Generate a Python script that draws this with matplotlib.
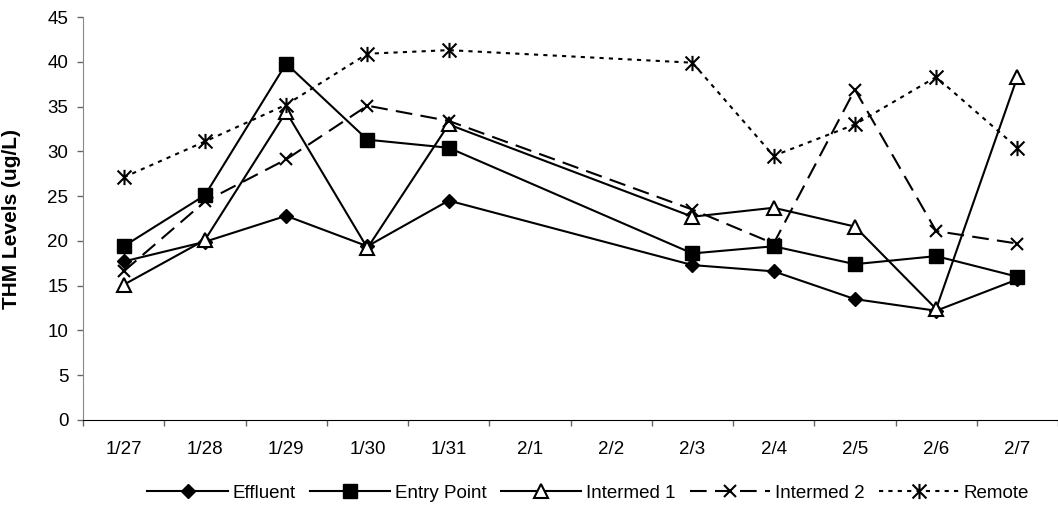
import matplotlib
matplotlib.use("Agg")
import matplotlib.pyplot as plt
from matplotlib.path import Path

plt.rcParams['font.family'] = ['Liberation Sans', 'DejaVu Sans']

dates = ["1/27", "1/28", "1/29", "1/30", "1/31", "2/1", "2/2", "2/3", "2/4", "2/5", "2/6", "2/7"]
effluent = [17.7, 19.9, 22.8, 19.4, 24.5, None, None, 17.3, 16.6, 13.5, 12.2, 15.7]
entry_point = [19.4, 25.1, 39.8, 31.3, 30.4, None, None, 18.6, 19.4, 17.4, 18.3, 16.0]
intermed1 = [15.1, 20.1, 34.4, 19.2, 33.0, None, None, 22.7, 23.7, 21.6, 12.4, 38.3]
intermed2 = [16.6, 24.4, 29.1, 35.1, 33.4, None, None, 23.5, 19.7, 36.9, 21.1, 19.7]
remote = [27.1, 31.1, 35.2, 40.9, 41.3, None, None, 39.9, 29.5, 33.0, 38.3, 30.4]

asterisk = Path([(-1, -1), (1, 1), (-1, 1), (1, -1), (0, -1.1), (0, 1.1)],
                [Path.MOVETO, Path.LINETO, Path.MOVETO, Path.LINETO, Path.MOVETO, Path.LINETO])

fig = plt.figure(figsize=(10.58, 5.25), dpi=100)
ax = fig.add_axes([0.0785, 0.2, 0.9215, 0.7676])

def xy(vals):
    xs = [i for i, v in enumerate(vals) if v is not None]
    ys = [v for v in vals if v is not None]
    return xs, ys

series = [
    ("Effluent", effluent, dict(ls='-', marker='D', ms=7.5, mfc='black', mec='black')),
    ("Entry Point", entry_point, dict(ls='-', marker='s', ms=10, mfc='black', mec='black')),
    ("Intermed 1", intermed1, dict(ls='-', marker='^', ms=10, mfc='white', mec='black', mew=1.5)),
    ("Intermed 2", intermed2, dict(ls=(0, (8, 4)), marker='x', ms=9, mec='black', mew=1.5)),
    ("Remote", remote, dict(ls=(0, (2, 2.5)), marker=asterisk, ms=11, mec='black', mew=1.5)),
]
for name, vals, st in series:
    xs, ys = xy(vals)
    ax.plot(xs, ys, color='black', lw=1.5, label=name, **st)

ax.set_xlim(-0.5, len(dates) - 0.5)
ax.set_ylim(0, 45)
ax.set_yticks(range(0, 46, 5))
ax.set_xticks(range(len(dates)))
ax.set_xticklabels(dates)
ax.set_xticks([i - 0.5 for i in range(len(dates) + 1)], minor=True)
ax.tick_params(axis='x', which='major', length=0, pad=15, labelsize=13.5)
ax.tick_params(axis='x', which='minor', length=4.5, width=1, color='#666666')
ax.tick_params(axis='y', length=4.5, width=1, color='#666666', labelsize=13.5, pad=6)
ax.spines['top'].set_visible(False)
ax.spines['right'].set_visible(False)
ax.spines['left'].set_color('#888888')
ax.spines['bottom'].set_color('black')
ax.set_ylabel("THM Levels (ug/L)", fontsize=15, fontweight='bold')
ax.yaxis.set_label_coords(-0.064, 0.5)

fig.legend(loc='center', bbox_to_anchor=(0.556, 0.061), ncol=5, frameon=False,
           fontsize=13.5, handlelength=4.3, columnspacing=0.75, handletextpad=0.25)

fig.savefig("out.png", dpi=100)
